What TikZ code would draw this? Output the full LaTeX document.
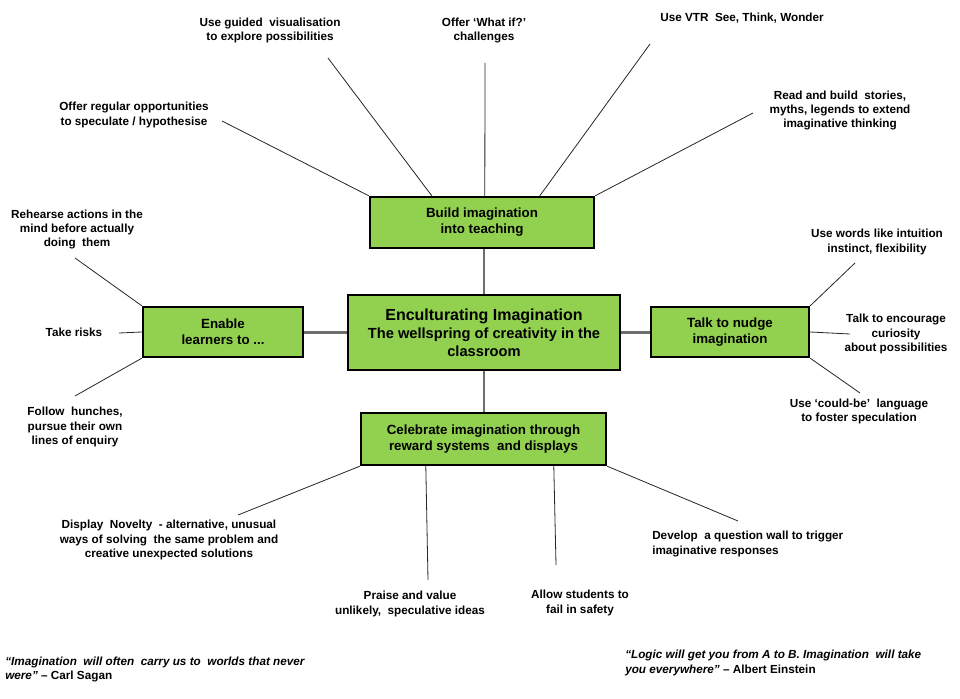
\documentclass[tikz,border=0pt]{standalone}
\usepackage{fontspec}
\setmainfont{Liberation Sans}
\definecolor{boxgreen}{HTML}{92D050}
\definecolor{linkgrey}{HTML}{6E6E6E}
\begin{document}
\begin{tikzpicture}[x=0.75pt,y=-0.75pt,
  box/.style={draw=black, line width=1.8pt, fill=boxgreen, align=center, inner sep=0pt,
    font=\bfseries\fontsize{10}{12}\selectfont},
  lbl/.style={font=\bfseries\fontsize{8.8}{10.8}\selectfont, align=center, inner sep=0pt},
  quote/.style={font=\bfseries\itshape\fontsize{8.8}{11.2}\selectfont, align=left, inner sep=0pt, anchor=west},
  thin/.style={draw=black!85, line width=0.6pt},
  link/.style={draw=linkgrey, line width=2.2pt}]
\useasboundingbox (0,0) rectangle (960,699);
\fill[white] (0,0) rectangle (960,699);

% main boxes
\node[box, line width=2.2pt, minimum width=272*0.75pt, minimum height=75*0.75pt,
  font=\bfseries\fontsize{11}{13.5}\selectfont] (center) at (484,332.5)
  {{\fontsize{12}{13.5}\selectfont Enculturating Imagination}\\The wellspring of creativity in the\\classroom};
\node[box, minimum width=224*0.75pt, minimum height=51*0.75pt] (build) at (482,222.5)
  {Build imagination\\into teaching};
\node[box, minimum width=160*0.75pt, minimum height=50*0.75pt] (enable) at (223,332)
  {Enable\\learners to ...};
\node[box, minimum width=158*0.75pt, minimum height=50*0.75pt] (talk) at (730,332)
  {Talk to nudge\\imagination};
\node[box, minimum width=245*0.75pt, minimum height=52*0.75pt] (celebrate) at (483.5,439)
  {Celebrate imagination through\\reward systems\ \ and displays};

% grey links
\draw[link] (center.north) -- (center.north |- build.south);
\draw[link] (center.west) -- (center.west -| enable.east);
\draw[link] (center.east) -- (center.east -| talk.west);
\draw[link] (center.south) -- (center.south |- celebrate.north);

% labels
\node[lbl] (g1) at (134,115) {Offer regular opportunities\\to speculate / hypothesise};
\node[lbl] (g2) at (270,30.5) {Use guided\ \ visualisation\\to explore possibilities};
\node[lbl] (g3) at (484,30.5) {Offer `What if?'\\challenges};
\node[lbl] (g4) at (742,18) {Use VTR\ \ See, Think, Wonder};
\node[lbl] (g5) at (840,110.5) {Read and build\ \ stories,\\myths, legends to extend\\imaginative thinking};
\node[lbl] (e1) at (77,229.5) {Rehearse actions in the\\mind before actually\\doing\ \ them};
\node[lbl] (e2) at (74,332) {Take risks};
\node[lbl] (e3) at (75,427) {Follow\ \ hunches,\\pursue their own\\lines of enquiry};
\node[lbl] (t1) at (877,242) {Use words like intuition\\instinct, flexibility};
\node[lbl] (t2) at (896,334) {Talk to encourage\\curiosity\\about possibilities};
\node[lbl] (t3) at (859,411.5) {Use `could-be'\ \ language\\to foster speculation};
\node[lbl] (c1) at (169,540) {Display\ \ Novelty\ \ - alternative, unusual\\ways of solving\ \ the same problem and\\creative unexpected solutions};
\node[lbl] (c2) at (410,604) {Praise and value\\unlikely,\ \ speculative ideas};
\node[lbl] (c3) at (580,603) {Allow students to\\fail in safety};
\node[lbl, align=left, anchor=west] (c4) at (652,544) {Develop\ \ a question wall to trigger\\imaginative responses};

% quotes
\node[quote] (q1) at (5,669.5) {``Imagination\ \ will often\ \ carry us to\ \ worlds that never\\were'' {\upshape -- Carl Sagan}};
\node[quote] (q2) at (625,663) {``Logic will get you from A to B. Imagination\ \ will take\\you everywhere'' {\upshape -- Albert Einstein}};

% free ends of thin connectors
\coordinate (g1e) at (222,121);
\coordinate (g2e) at (328,58);
\coordinate (g3e) at (485,63);
\coordinate (g4e) at (650,44);
\coordinate (g5e) at (753,113);
\coordinate (e1e) at (75,258);
\coordinate (e2e) at (119,333);
\coordinate (e3e) at (75,396);
\coordinate (t1e) at (855,263);
\coordinate (t2e) at (850,334);
\coordinate (t3e) at (860,393);
\coordinate (c1e) at (238,515);
\coordinate (c2e) at (428,580);
\coordinate (c3e) at (556,565);
\coordinate (c4e) at (738,521);

% thin connectors
\draw[thin] (build.north west) -- (g1e);
\draw[thin] (build.north west) ++(63,0) -- (g2e);
\draw[thin] (build.north west) ++(116,0) -- (g3e);
\draw[thin] (build.north west) ++(171,0) -- (g4e);
\draw[thin] (build.north east) -- (g5e);
\draw[thin] (enable.north west) -- (e1e);
\draw[thin] (enable.west) -- (e2e);
\draw[thin] (enable.south west) -- (e3e);
\draw[thin] (talk.north east) -- (t1e);
\draw[thin] (talk.east) -- (t2e);
\draw[thin] (talk.south east) -- (t3e);
\draw[thin] (celebrate.south west) -- (c1e);
\draw[thin] (celebrate.south west) ++(66,0) -- (c2e);
\draw[thin] (celebrate.south west) ++(194,0) -- (c3e);
\draw[thin] (celebrate.south east) -- (c4e);
\end{tikzpicture}
\end{document}
